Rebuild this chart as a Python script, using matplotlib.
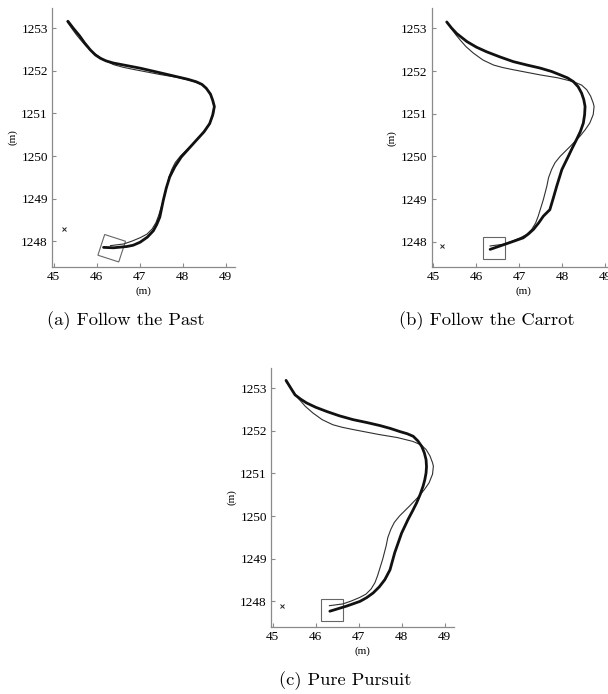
# -*- coding: utf-8 -*-
# three path-following runs, reference path (thin) vs driven path (thick)

import numpy as np
import matplotlib as mpl
mpl.use('Agg')
import matplotlib.pyplot as plt
from matplotlib.patches import Rectangle

# reference path (thin line)
REF_X = [45.31, 45.38, 45.45, 45.53, 45.62, 45.76, 45.93, 46.15, 46.40, 46.62, 46.86,
         47.48, 47.90, 48.26, 48.45, 48.57, 48.66, 48.72, 48.74, 48.72, 48.64, 48.53,
         48.41, 48.18, 47.95, 47.83, 47.75, 47.68, 47.64, 47.56, 47.44, 47.38, 47.29,
         47.17, 47.02, 46.83, 46.63, 46.32]
REF_Y = [1253.15, 1253.05, 1252.95, 1252.84, 1252.73, 1252.57, 1252.42, 1252.26, 1252.14,
         1252.08, 1252.03, 1251.91, 1251.84, 1251.75, 1251.67, 1251.56, 1251.41, 1251.25,
         1251.17, 1250.98, 1250.78, 1250.62, 1250.47, 1250.23, 1250.00, 1249.85, 1249.69,
         1249.50, 1249.30, 1248.99, 1248.60, 1248.44, 1248.29, 1248.17, 1248.09, 1248.01,
         1247.94, 1247.90]

# driven paths (thick line)
A_X = [45.33, 45.46, 45.60, 45.72, 45.85, 45.97, 46.09, 46.22, 46.39, 46.70, 47.01,
       47.40, 47.78, 48.12, 48.32, 48.45, 48.55, 48.65, 48.70, 48.74, 48.70, 48.63,
       48.50, 48.32, 48.14, 47.97, 47.82, 47.70, 47.62, 47.55, 47.47, 47.40, 47.32,
       47.18, 47.01, 46.85, 46.70, 46.39, 46.16]
A_Y = [1253.16, 1252.99, 1252.82, 1252.65, 1252.49, 1252.37, 1252.29, 1252.23, 1252.18,
       1252.12, 1252.06, 1251.97, 1251.88, 1251.80, 1251.74, 1251.68, 1251.59, 1251.45,
       1251.31, 1251.16, 1250.96, 1250.76, 1250.57, 1250.37, 1250.17, 1249.98, 1249.75,
       1249.51, 1249.25, 1248.96, 1248.57, 1248.40, 1248.25, 1248.10, 1247.98, 1247.91,
       1247.88, 1247.85, 1247.86]

B_X = [45.31, 45.42, 45.54, 45.78, 46.00, 46.24, 46.55, 46.86, 47.18, 47.48, 47.75,
       47.95, 48.12, 48.26, 48.37, 48.45, 48.50, 48.53, 48.52, 48.49, 48.42, 48.33,
       48.23, 48.14, 47.99, 47.87, 47.79, 47.71, 47.56, 47.45, 47.33, 47.21, 47.09,
       46.78, 46.55, 46.32]
B_Y = [1253.15, 1253.01, 1252.88, 1252.69, 1252.56, 1252.45, 1252.33, 1252.22, 1252.14,
       1252.07, 1251.99, 1251.91, 1251.84, 1251.75, 1251.63, 1251.48, 1251.33, 1251.17,
       1250.98, 1250.78, 1250.58, 1250.39, 1250.19, 1250.00, 1249.69, 1249.30, 1249.02,
       1248.75, 1248.60, 1248.44, 1248.29, 1248.18, 1248.09, 1247.98, 1247.90, 1247.82]

C_X = [45.31, 45.42, 45.52, 45.65, 45.79, 46.00, 46.26, 46.55, 46.87, 47.20, 47.50,
       47.75, 47.96, 48.13, 48.27, 48.38, 48.47, 48.53, 48.57, 48.58, 48.57, 48.54,
       48.50, 48.43, 48.35, 48.25, 48.15, 48.00, 47.84, 47.73, 47.61, 47.48, 47.34,
       47.19, 47.03, 46.72, 46.33]
C_Y = [1253.18, 1253.00, 1252.84, 1252.74, 1252.65, 1252.55, 1252.45, 1252.35, 1252.26,
       1252.19, 1252.12, 1252.05, 1251.98, 1251.93, 1251.87, 1251.76, 1251.63, 1251.48,
       1251.32, 1251.16, 1251.01, 1250.85, 1250.70, 1250.50, 1250.31, 1250.11, 1249.92,
       1249.60, 1249.14, 1248.74, 1248.51, 1248.34, 1248.20, 1248.09, 1248.00, 1247.89,
       1247.77]

# vehicle box and goal marker per panel
BOX_CX = [46.35, 46.40, 46.39]
BOX_CY = [1247.84, 1247.85, 1247.80]
BOX_ANGLE = [-18, 0, 0]
BOX_SIZE = 0.51
GOAL_X = [45.24, 45.21, 45.21]
GOAL_Y = [1248.29, 1247.90, 1247.89]

CAPTIONS = ['(a) Follow the Past', '(b) Follow the Carrot', '(c) Pure Pursuit']
XTICKS = [45, 46, 47, 48, 49]
YTICKS = [1248, 1249, 1250, 1251, 1252, 1253]

W, H = 608, 694
fig = plt.figure(figsize=(W / 100, H / 100), dpi=100)

# axes boxes in pixels: left, top
AX_PIX = [(52, 8), (431.7, 8.3), (271, 368)]
AX_W, AX_H = 183, 259
CAP_PIX = [(126, 321), (487, 321), (345, 681)]

paths = [(A_X, A_Y), (B_X, B_Y), (C_X, C_Y)]
SPINE = '#8a8a8a'

for i in range(3):
    l, t = AX_PIX[i]
    ax = fig.add_axes([l / W, 1 - (t + AX_H) / H, AX_W / W, AX_H / H])
    ax.plot(REF_X, REF_Y, color='#303030', lw=0.8)
    ax.plot(paths[i][0], paths[i][1], color='#111111', lw=2.0,
            solid_capstyle='round', solid_joinstyle='round')
    ax.add_patch(Rectangle((BOX_CX[i] - BOX_SIZE / 2, BOX_CY[i] - BOX_SIZE / 2),
                           BOX_SIZE, BOX_SIZE, angle=BOX_ANGLE[i],
                           rotation_point='center', fill=False,
                           edgecolor='#666666', lw=0.8))
    ax.plot(GOAL_X[i], GOAL_Y[i], marker='x', color='#222222', ms=3.5, mew=0.7)

    ax.set_xlim(44.96, 49.22)
    ax.set_ylim(1247.40, 1253.47)
    ax.set_xticks(XTICKS)
    ax.set_yticks(YTICKS)
    ax.set_xticklabels([str(v) for v in XTICKS], family='Liberation Serif', fontsize=9.5)
    ax.set_yticklabels([str(v) for v in YTICKS], family='Liberation Serif', fontsize=9.5)
    ax.tick_params(direction='in', length=3, width=0.8, color=SPINE, pad=3)
    for s in ['top', 'right']:
        ax.spines[s].set_visible(False)
    for s in ['left', 'bottom']:
        ax.spines[s].set_color(SPINE)
        ax.spines[s].set_linewidth(0.9)
    ax.set_xlabel('(m)', family='Liberation Serif', fontsize=8, labelpad=2)
    ax.set_ylabel('(m)', family='Liberation Serif', fontsize=8, labelpad=3)

    cx, cy = CAP_PIX[i]
    fig.text(cx / W, 1 - cy / H, CAPTIONS[i], family='cmr10', fontsize=13.3,
             ha='center', va='center')

plt.savefig('out.png', dpi=100)
plt.close('all')
